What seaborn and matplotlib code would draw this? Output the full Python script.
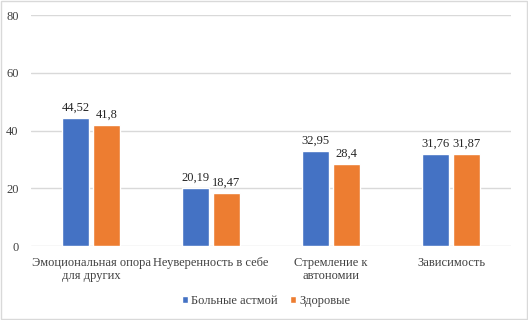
import pandas as pd
import matplotlib.pyplot as plt
import seaborn as sns
from matplotlib.patches import Rectangle

categories = ['Эмоциональная опора\nдля других', 'Неуверенность в себе',
              'Стремление к\nавтономии', 'Зависимость']
groups = ['Больные астмой', 'Здоровые']
asthma = [44.52, 20.19, 32.95, 31.76]
healthy = [41.8, 18.47, 28.4, 31.87]
labels_asthma = ['44,52', '20,19', '32,95', '31,76']
labels_healthy = ['41,8', '18,47', '28,4', '31,87']
colors = ['#4472C4', '#ED7D31']

df = pd.DataFrame({
    'category': categories * 2,
    'group': [groups[0]] * 4 + [groups[1]] * 4,
    'value': asthma + healthy,
})

sns.set_style('white')
plt.rcParams['font.family'] = ['Liberation Serif', 'DejaVu Serif']

fig = plt.figure(figsize=(5.28, 3.2), dpi=100)
ax = fig.add_axes([0.059, 0.231, 0.909, 0.722])

sns.barplot(data=df, x='category', y='value', hue='group', palette=colors,
            width=0.51, gap=0.12, ax=ax, saturation=1)

for cont, labs in zip(ax.containers, [labels_asthma, labels_healthy]):
    ax.bar_label(cont, labels=labs, padding=3, fontsize=9, color='#262626')

ax.set_ylim(0, 80)
ax.set_yticks([0, 20, 40, 60, 80])
ax.set_xlim(-0.5, 3.5)
ax.yaxis.grid(True, color='#D9D9D9', linewidth=1)
ax.set_axisbelow(True)
for s in ax.spines.values():
    s.set_visible(False)
ax.tick_params(axis='both', length=0, labelsize=9, colors='#404040')
ax.tick_params(axis='y', pad=9)
ax.tick_params(axis='x', pad=8)
for t in ax.get_xticklabels():
    t.set_linespacing(1.05)
ax.set_xlabel('')
ax.set_ylabel('')

ax.legend(loc='center', bbox_to_anchor=(0.49, -0.238), ncol=2, frameon=False,
          fontsize=9, handlelength=0.45, handleheight=0.45, handletextpad=0.3,
          columnspacing=1.0, labelcolor='#404040')

fig.patches.append(Rectangle((0.002, 0.003), 0.996, 0.994, transform=fig.transFigure,
                             fill=False, edgecolor='#D9D9D9', linewidth=1))

fig.savefig('out.png', dpi=100)
